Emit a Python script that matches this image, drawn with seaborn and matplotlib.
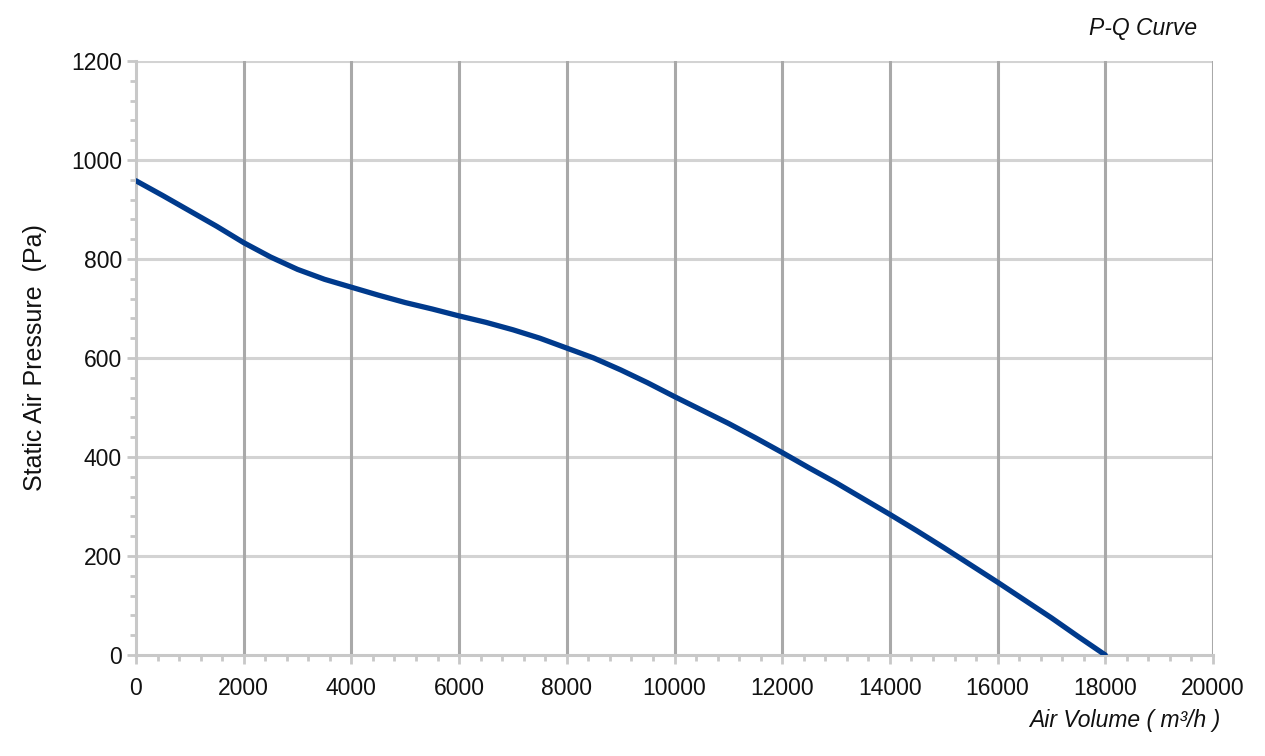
import matplotlib
matplotlib.use("Agg")
import matplotlib.pyplot as plt
import seaborn as sns
import pandas as pd
from matplotlib.ticker import MultipleLocator

air_volume = [0, 500, 1000, 1500, 2000, 2500, 3000, 3500, 4000, 4500,
              5000, 5500, 6000, 6500, 7000, 7500, 8000, 8500, 9000, 9500,
              10000, 10500, 11000, 11500, 12000, 12500, 13000, 13500, 14000,
              14500, 15000, 15500, 16000, 16500, 17000, 17500, 18000]
static_pressure = [958, 928, 897, 866, 833, 804, 779, 759, 743, 727,
                   712, 699, 685, 672, 657, 640, 620, 600, 576, 550,
                   522, 495, 468, 439, 409, 378, 348, 316, 284,
                   251, 217, 182, 147, 111, 75, 37, 0]
x_ticks = [0, 2000, 4000, 6000, 8000, 10000, 12000, 14000, 16000, 18000, 20000]
y_ticks = [0, 200, 400, 600, 800, 1000, 1200]

title_text = "P-Q Curve"
x_label = "Air Volume ( m³/h )"
y_label = "Static Air Pressure  (Pa)"

sns.set_style("white")
plt.rcParams['font.family'] = ['Liberation Sans', 'DejaVu Sans']

df = pd.DataFrame({"Q": air_volume, "P": static_pressure})

fig = plt.figure(figsize=(12.65, 7.56), dpi=100)
ax = fig.add_axes([136/1265, 1-655/756, (1213-136)/1265, (655-61)/756])

sns.lineplot(data=df, x="Q", y="P", ax=ax, color="#003a8c", linewidth=3.8,
             solid_capstyle="round", solid_joinstyle="round", zorder=5)

ax.set_xlim(0, 20000)
ax.set_ylim(0, 1200)
ax.set_xticks(x_ticks)
ax.set_yticks(y_ticks)
ax.set_xticklabels([str(t) for t in x_ticks], fontsize=16.5)
ax.set_yticklabels([str(t) for t in y_ticks], fontsize=16.5)
ax.xaxis.set_minor_locator(MultipleLocator(400))
ax.yaxis.set_minor_locator(MultipleLocator(40))

ax.grid(False)
for t in x_ticks[1:]:
    ax.axvline(t, color="#a9a9a9", linewidth=2.2, zorder=1)
for t in y_ticks[1:]:
    ax.axhline(t, color="#d3d3d3", linewidth=2.2, zorder=0.5)

for s in ["top", "right"]:
    ax.spines[s].set_visible(False)
for s in ["left", "bottom"]:
    ax.spines[s].set_color("#c8c8c8")
    ax.spines[s].set_linewidth(2.2)

ax.tick_params(axis="both", which="both", bottom=True, left=True,
               top=False, right=False)
ax.tick_params(axis="both", which="major", direction="out", length=6.5, width=2,
               color="#c8c8c8", labelcolor="#111111")
ax.tick_params(axis="both", which="minor", direction="out", length=4.3, width=2,
               color="#c8c8c8")
ax.tick_params(axis="x", which="major", pad=9)
ax.tick_params(axis="y", which="major", pad=3.6)

ax.set_xlabel("")
ax.set_ylabel(y_label, fontsize=18, color="#111111", labelpad=17)
fig.text(1220/1265, 1-720/756, x_label, ha="right", va="center", fontsize=16.5,
         style="italic", color="#111111")
fig.text(1197/1265, 1-29/756, title_text, ha="right", va="center", fontsize=16.5,
         style="italic", color="#111111")

fig.savefig("out.png", dpi=100, facecolor="white")
